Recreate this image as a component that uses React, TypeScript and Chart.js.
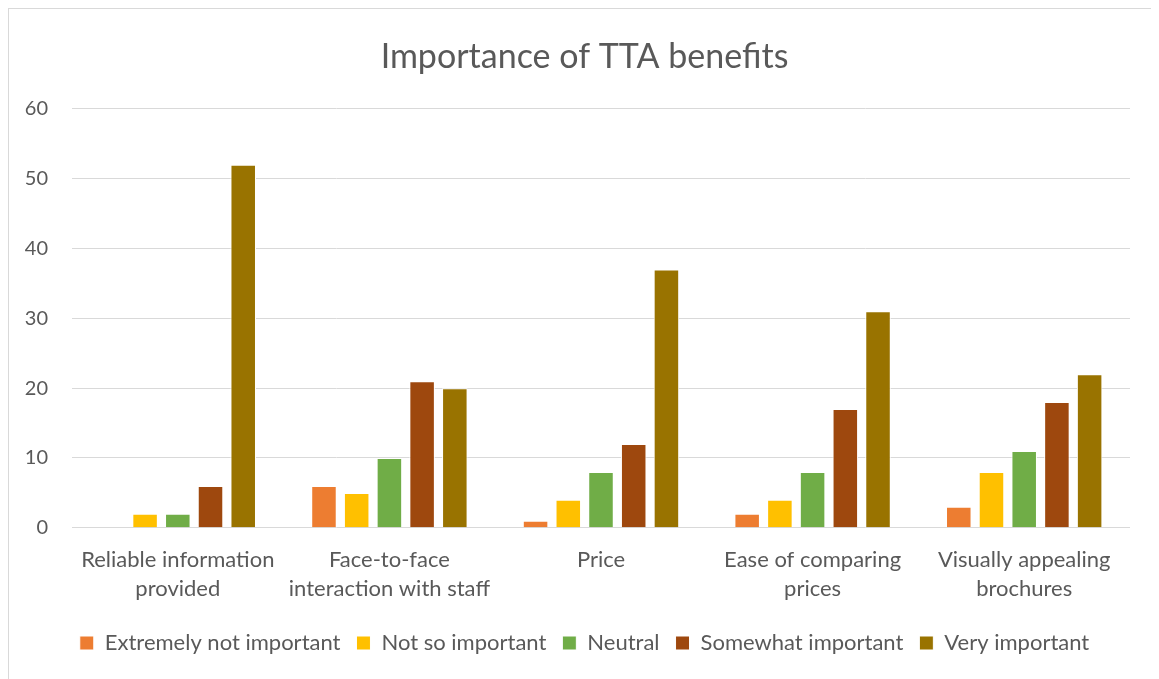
import React, { useEffect, useRef } from "react";
import { Chart, registerables } from "chart.js";

Chart.register(...registerables);

const categories: string[][] = [
  ["Reliable information", "provided"],
  ["Face-to-face", "interaction with staff"],
  ["Price"],
  ["Ease of comparing", "prices"],
  ["Visually appealing", "brochures"],
];

const seriesNames = [
  "Extremely not important",
  "Not so important",
  "Neutral",
  "Somewhat important",
  "Very important",
];

const extremelyNot = [0, 6, 1, 2, 3];
const notSo = [2, 5, 4, 4, 8];
const neutral = [2, 10, 8, 8, 11];
const somewhat = [6, 21, 12, 17, 18];
const very = [52, 20, 37, 31, 22];

const colors = ["#ED7D31", "#FFC000", "#70AD47", "#9E480E", "#997300"];

const FONT = "Lato, 'Open Sans', sans-serif";
const TEXT = "#595959";

// Title and legend are centred on the whole frame rather than the padded box.
const centreShift = {
  id: "centreShift",
  afterLayout(chart: any) {
    const dx = 15;
    for (const box of [chart.titleBlock, chart.legend]) {
      if (!box) continue;
      box.left += dx;
      box.right += dx;
    }
  },
};

export default function App() {
  const ref = useRef<HTMLCanvasElement>(null);

  useEffect(() => {
    if (!ref.current) return;
    const values = [extremelyNot, notSo, neutral, somewhat, very];
    const chart = new Chart(ref.current, {
      type: "bar",
      data: {
        labels: categories,
        datasets: values.map((v, i) => ({
          label: seriesNames[i],
          data: v,
          backgroundColor: colors[i],
          borderColor: "#ffffff",
          borderWidth: 1,
          categoryPercentage: 0.773,
          barPercentage: 0.78,
        })),
      },
      options: {
        animation: false,
        responsive: true,
        maintainAspectRatio: false,
        layout: { padding: { left: 0, right: 25, top: 13, bottom: 23 } },
        plugins: {
          title: {
            display: true,
            text: "Importance of TTA benefits",
            color: TEXT,
            font: { family: FONT, size: 34, weight: "normal" },
            padding: { top: 15, bottom: 31 },
          },
          legend: {
            position: "bottom",
            labels: {
              color: TEXT,
              font: { family: FONT, size: 22 },
              boxWidth: 14,
              boxHeight: 14,
              padding: 16,
            },
          },
          tooltip: { enabled: false },
        },
        scales: {
          x: {
            grid: { display: false },
            border: { display: false },
            afterFit: (s: any) => {
              s.height += 3;
            },
            ticks: {
              color: TEXT,
              font: { family: FONT, size: 22, lineHeight: 1.3 },
              maxRotation: 0,
              padding: 10,
            },
          },
          y: {
            min: 0,
            max: 60,
            afterFit: (s: any) => {
              s.width = 63;
            },
            ticks: {
              stepSize: 10,
              color: TEXT,
              font: { family: FONT, size: 20 },
              padding: 24,
            },
            grid: { color: "#d9d9d9", lineWidth: 1, drawTicks: false },
            border: { display: false },
          },
        },
      },
      plugins: [centreShift],
    });
    return () => chart.destroy();
  }, []);

  return (
    <div
      style={{
        width: 1148,
        height: 680,
        border: "1px solid #d9d9d9",
        background: "#fff",
        boxSizing: "border-box",
        position: "relative",
      }}
    >
      <canvas ref={ref} />
    </div>
  );
}
